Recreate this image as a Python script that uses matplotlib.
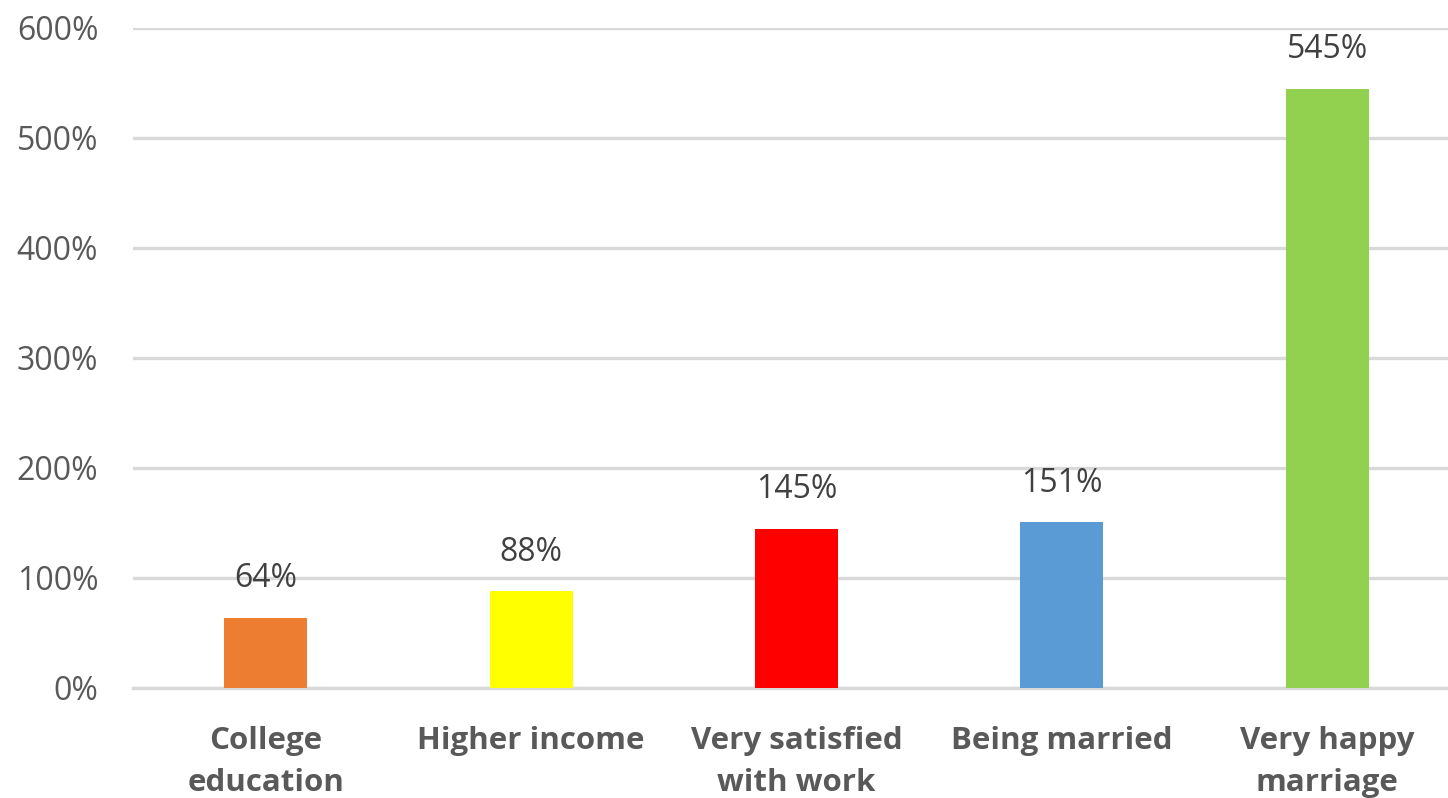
import numpy as np
import matplotlib
matplotlib.use("Agg")
import matplotlib.pyplot as plt
from matplotlib.ticker import FuncFormatter

# Data
categories = ["College\neducation", "Higher income", "Very satisfied\nwith work",
              "Being married", "Very happy\nmarriage"]
values = [64, 88, 145, 151, 545]
colors = ["#ED7D31", "#FFFF00", "#FF0000", "#5B9BD5", "#92D050"]
y_ticks = [0, 100, 200, 300, 400, 500, 600]

plt.rcParams['font.family'] = ['Open Sans', 'DejaVu Sans']

fig = plt.figure(figsize=(14.48, 7.98), dpi=100)
ax = fig.add_axes([133 / 1448, 1 - 688 / 798, 1 - 133 / 1448, (688 - 28) / 798])

x = np.arange(len(categories))
bars = ax.bar(x, values, width=0.313, color=colors, zorder=3)

# Value labels above the bars
for rect, val in zip(bars, values):
    ax.annotate(f"{val}%", (rect.get_x() + rect.get_width() / 2, val),
                xytext=(0, 16), textcoords="offset points",
                ha="center", va="bottom", fontsize=23, color="#404040")

ax.set_xlim(-0.5, 4.455)
ax.set_ylim(0, 600)
ax.set_yticks(y_ticks)
ax.yaxis.set_major_formatter(FuncFormatter(lambda v, p: f"{v:.0f}%"))
ax.set_xticks(x)
ax.set_xticklabels(categories, fontsize=22.5, fontweight="bold", color="#595959",
                   linespacing=1.55)

ax.tick_params(axis="y", length=0, pad=25, labelsize=23, labelcolor="#595959")
ax.tick_params(axis="x", length=0, pad=27)

# Gridlines and axis line
ax.grid(axis="y", color="#D9D9D9", linewidth=2.4, zorder=0)
for side in ["top", "right", "left"]:
    ax.spines[side].set_visible(False)
ax.spines["bottom"].set_color("#D9D9D9")
ax.spines["bottom"].set_linewidth(2.4)

fig.savefig("out.png", dpi=100)
